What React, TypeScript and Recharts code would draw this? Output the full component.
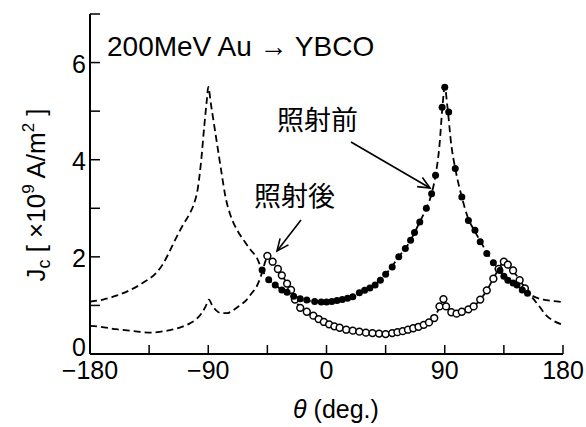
import React from 'react';
import { ComposedChart, Line, Scatter, XAxis, YAxis } from 'recharts';

// ---- data ----
const xTicks = [-180, -135, -90, -45, 0, 45, 90, 135, 180];
const xTickLabels = ['\u2212180', '', '\u221290', '', '0', '', '90', '', '180'];
const yTicks = [0, 1, 2, 3, 4, 5, 6, 7];
const yTickLabels = ['0', '', '2', '', '4', '', '6', ''];

// filled circles: before irradiation [theta, Jc]
const preIrr: number[][] = [
  [-49, 1.73], [-44, 1.53], [-39, 1.42], [-34, 1.32], [-30, 1.27], [-25, 1.19], [-20, 1.14],
  [-15, 1.11], [-9, 1.08], [-4, 1.07], [0, 1.07], [4, 1.08], [8, 1.1], [12, 1.12], [16, 1.15],
  [20, 1.18], [25, 1.26], [29, 1.31], [33, 1.36], [37, 1.42], [41, 1.52], [45, 1.64], [50, 1.79],
  [55, 2.0], [60, 2.17], [64, 2.34], [67, 2.5], [71, 2.72], [76, 3.0], [80, 3.3], [83, 3.68],
  [88, 5.08], [90, 5.49], [93, 4.98], [98, 3.82], [103, 3.23], [108, 2.75], [113, 2.55],
  [117, 2.31], [122, 2.07], [127, 1.88], [132, 1.72], [135, 1.6], [138, 1.52], [142, 1.46],
  [145, 1.42], [149, 1.32], [153, 1.25],
];

// open circles: after irradiation [theta, Jc]
const postIrr: number[][] = [
  [-45, 2.02], [-41, 1.9], [-37, 1.75], [-34, 1.62], [-30, 1.45], [-27, 1.32], [-24, 1.12],
  [-20, 0.95], [-15, 0.87], [-10, 0.79], [-6, 0.72], [-2, 0.66], [2, 0.61], [6, 0.57], [10, 0.54],
  [15, 0.5], [20, 0.48], [25, 0.46], [30, 0.44], [35, 0.43], [40, 0.42], [45, 0.41], [50, 0.43],
  [54, 0.45], [58, 0.47], [62, 0.5], [66, 0.53], [70, 0.56], [74, 0.6], [78, 0.65], [82, 0.74],
  [86, 0.98], [89, 1.13], [91, 0.98], [95, 0.86], [99, 0.83], [103, 0.87], [108, 0.92],
  [112, 0.98], [117, 1.12], [122, 1.31], [127, 1.55], [131, 1.75], [135, 1.9], [138, 1.84],
  [142, 1.72], [147, 1.52], [151, 1.35],
];

// dashed fit curve (before irradiation)
const preFit: number[][] = [
  [-180, 1.08], [-170, 1.12], [-160, 1.2], [-150, 1.31], [-140, 1.46], [-130, 1.66],
  [-125, 1.83], [-120, 2.08], [-115, 2.36], [-110, 2.62], [-105, 2.85], [-101, 3.08],
  [-98, 3.4], [-95.5, 3.95], [-93, 4.7], [-91, 5.25], [-90, 5.5], [-88, 5.15], [-86, 4.8],
  [-84, 4.45], [-82, 4.1], [-80, 3.75], [-77, 3.25], [-73, 2.85], [-68, 2.55], [-63, 2.34],
  [-58, 2.15], [-53, 1.98], [-49, 1.73], [-44, 1.53], [-39, 1.42], [-34, 1.32], [-25, 1.19],
  [-15, 1.1], [-5, 1.07], [0, 1.06], [5, 1.07], [15, 1.13], [25, 1.24], [35, 1.39], [45, 1.64],
  [55, 2.0], [64, 2.34], [71, 2.72], [76, 3.0], [80, 3.3], [83, 3.68], [86, 4.3], [88, 5.0],
  [90, 5.5], [92, 5.1], [95, 4.3], [98, 3.82], [103, 3.23], [108, 2.78], [113, 2.52],
  [118, 2.28], [123, 2.05], [128, 1.85], [133, 1.68], [138, 1.55], [143, 1.45], [148, 1.35],
  [153, 1.26], [158, 1.18], [165, 1.12], [172, 1.09], [180, 1.07],
];

// dashed fit curve (after irradiation)
const postFit: number[][] = [
  [-180, 0.58], [-172, 0.56], [-160, 0.51], [-150, 0.48], [-140, 0.45], [-134, 0.44],
  [-126, 0.46], [-119, 0.49], [-111, 0.55], [-104, 0.63], [-99, 0.72], [-95, 0.84], [-92, 0.98],
  [-89.5, 1.12], [-87, 1.0], [-84, 0.9], [-80, 0.84], [-76, 0.84], [-71, 0.9], [-66, 1.0],
  [-61, 1.11], [-57, 1.25], [-53, 1.4], [-49, 1.68], [-46, 1.95], [-45, 2.0], [-41, 1.9],
  [-37, 1.75], [-34, 1.62], [-30, 1.45], [-27, 1.3], [-24, 1.12], [-20, 0.96], [-15, 0.86],
  [-10, 0.78], [-5, 0.69], [0, 0.62], [5, 0.57], [10, 0.54], [20, 0.48], [30, 0.44], [40, 0.42],
  [45, 0.41], [55, 0.45], [65, 0.52], [74, 0.6], [80, 0.69], [84, 0.85], [87, 1.0], [89.5, 1.12],
  [92, 0.97], [96, 0.85], [100, 0.83], [105, 0.88], [112, 0.98], [117, 1.12], [122, 1.31],
  [127, 1.55], [131, 1.75], [135, 1.9], [138, 1.84], [142, 1.72], [147, 1.52], [152, 1.33],
  [157, 1.15], [162, 0.98], [167, 0.8], [173, 0.68], [180, 0.6],
];

const toPts = (arr: number[][]) => arr.map(([x, y]) => ({ x, y }));

const FONT = '"Liberation Sans", Arial, Helvetica, sans-serif';
const CJK = '"Noto Sans CJK JP", "Noto Sans CJK SC", sans-serif';
const TICK_LEN = 9;

const BottomTick = (props: any) => {
  const { x, y, payload } = props;
  const idx = xTicks.indexOf(payload.value);
  const label = idx >= 0 ? xTickLabels[idx] : '';
  return (
    <g>
      <line x1={x} y1={y} x2={x} y2={y - TICK_LEN} stroke="#000" strokeWidth={1.5} />
      {label && (
        <text x={x} y={y + 25} textAnchor="middle" fontSize={25} fontFamily={FONT} fill="#000">
          {label}
        </text>
      )}
    </g>
  );
};

const TopTick = (props: any) => {
  const { x, y } = props;
  return <line x1={x} y1={y} x2={x} y2={y + TICK_LEN} stroke="#000" strokeWidth={1.5} />;
};

const LeftTick = (props: any) => {
  const { x, y, payload } = props;
  const idx = yTicks.indexOf(payload.value);
  const label = idx >= 0 ? yTickLabels[idx] : '';
  const dy = payload.value === 0 ? 2 : 10;
  return (
    <g>
      <line x1={x} y1={y} x2={x + TICK_LEN + 1} y2={y} stroke="#000" strokeWidth={1.5} />
      {label && (
        <text x={x - 4} y={y + dy} textAnchor="end" fontSize={25} fontFamily={FONT} fill="#000">
          {label}
        </text>
      )}
    </g>
  );
};

const RightTick = (props: any) => {
  const { x, y } = props;
  return <line x1={x} y1={y} x2={x - TICK_LEN - 1} y2={y} stroke="#000" strokeWidth={1.5} />;
};

const FilledDot = (p: any) => <circle cx={p.cx} cy={p.cy} r={3.5} fill="#000" />;
const OpenDot = (p: any) => (
  <circle cx={p.cx} cy={p.cy} r={3.4} fill="#fff" stroke="#000" strokeWidth={1.5} />
);

const Arrow = ({ x1, y1, x2, y2 }: { x1: number; y1: number; x2: number; y2: number }) => {
  const a = Math.atan2(y2 - y1, x2 - x1);
  const L = 13;
  const s = 0.42;
  const p1 = [x2 - L * Math.cos(a - s), y2 - L * Math.sin(a - s)];
  const p2 = [x2 - L * Math.cos(a + s), y2 - L * Math.sin(a + s)];
  return (
    <g stroke="#000" strokeWidth={1.6} fill="none">
      <line x1={x1} y1={y1} x2={x2} y2={y2} />
      <polyline points={`${p1[0]},${p1[1]} ${x2},${y2} ${p2[0]},${p2[1]}`} />
    </g>
  );
};

export default function App() {
  const axisLine = { stroke: '#000', strokeWidth: 2 };
  return (
    <div style={{ position: 'absolute', left: 0, top: 0, width: 586, height: 427, background: '#fff' }}>
      <ComposedChart
        width={586}
        height={427}
        margin={{ top: 14, right: 23, bottom: 0, left: 0 }}
      >
        <XAxis
          xAxisId="b"
          dataKey="x"
          type="number"
          domain={[-180, 180]}
          ticks={xTicks}
          interval={0}
          allowDataOverflow
          height={73}
          tickSize={0}
          tickMargin={0}
          tickLine={false}
          axisLine={axisLine}
          tick={<BottomTick />}
        />
        <XAxis
          xAxisId="t"
          orientation="top"
          dataKey="x"
          type="number"
          domain={[-180, 180]}
          ticks={xTicks}
          interval={0}
          allowDataOverflow
          height={0}
          tickSize={0}
          tickMargin={0}
          tickLine={false}
          axisLine={axisLine}
          tick={<TopTick />}
        />
        <YAxis
          yAxisId="l"
          dataKey="y"
          type="number"
          domain={[0, 7]}
          ticks={yTicks}
          interval={0}
          allowDataOverflow
          width={90}
          tickSize={0}
          tickMargin={0}
          tickLine={false}
          axisLine={axisLine}
          tick={<LeftTick />}
        />
        <YAxis
          yAxisId="r"
          orientation="right"
          dataKey="y"
          type="number"
          domain={[0, 7]}
          ticks={yTicks}
          interval={0}
          allowDataOverflow
          width={0}
          tickSize={0}
          tickMargin={0}
          tickLine={false}
          axisLine={axisLine}
          tick={<RightTick />}
        />
        <Line
          xAxisId="b"
          yAxisId="l"
          data={toPts(preFit)}
          dataKey="y"
          type="monotone"
          stroke="#000"
          strokeWidth={1.8}
          strokeDasharray="7 4"
          dot={false}
          isAnimationActive={false}
        />
        <Line
          xAxisId="b"
          yAxisId="l"
          data={toPts(postFit)}
          dataKey="y"
          type="monotone"
          stroke="#000"
          strokeWidth={1.8}
          strokeDasharray="7 4"
          dot={false}
          isAnimationActive={false}
        />
        <Scatter
          xAxisId="b"
          yAxisId="l"
          data={toPts(postIrr)}
          dataKey="y"
          shape={OpenDot}
          isAnimationActive={false}
        />
        <Scatter
          xAxisId="b"
          yAxisId="l"
          data={toPts(preIrr)}
          dataKey="y"
          shape={FilledDot}
          isAnimationActive={false}
        />
      </ComposedChart>
      <svg
        width={586}
        height={427}
        style={{ position: 'absolute', left: 0, top: 0, pointerEvents: 'none' }}
      >
        <text x={107} y={56} fontSize={28} fontFamily={FONT} fill="#000">
          200MeV Au → YBCO
        </text>
        <text x={277} y={130} fontSize={27} fontFamily={CJK} fill="#000">
          照射前
        </text>
        <text x={254} y={206} fontSize={27} fontFamily={CJK} fill="#000">
          照射後
        </text>
        <Arrow x1={351} y1={142} x2={430} y2={188} />
        <Arrow x1={301} y1={220} x2={277} y2={251} />
        <text
          transform="rotate(-90)"
          x={-195}
          y={45}
          textAnchor="middle"
          fontSize={26}
          fontFamily={FONT}
          fill="#000"
        >
          J<tspan fontSize={18} dy={5}>c</tspan>
          <tspan dy={-5}>{' [ ×10'}</tspan>
          <tspan fontSize={17} dy={-11}>9</tspan>
          <tspan dy={11}>{' A/m'}</tspan>
          <tspan fontSize={17} dy={-11}>2</tspan>
          <tspan dy={11}>{' ]'}</tspan>
        </text>
        <text x={336} y={418} textAnchor="middle" fontSize={25} fontFamily={FONT} fill="#000">
          <tspan fontStyle="italic">θ</tspan>
          {' (deg.)'}
        </text>
      </svg>
    </div>
  );
}
